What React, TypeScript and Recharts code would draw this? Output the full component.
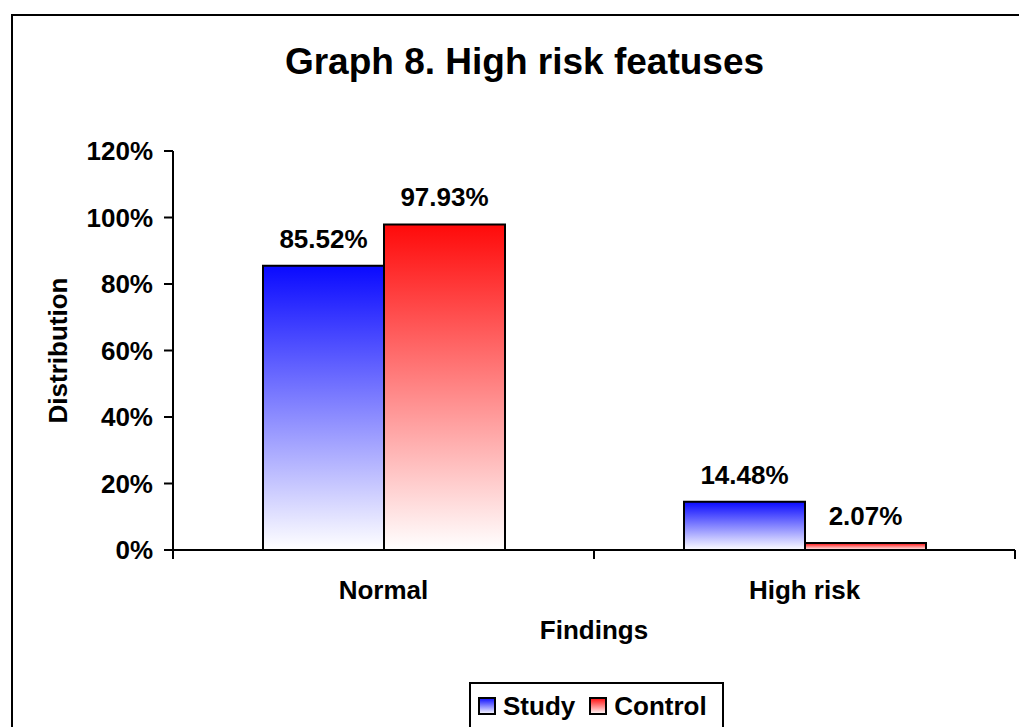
import React from 'react';
import { BarChart, Bar, XAxis, YAxis, Label, LabelList, Legend } from 'recharts';

// findings per group, in percent
const findings = ['Normal', 'High risk'];
const studyValues = [85.52, 14.48];
const controlValues = [97.93, 2.07];
const yTicks = [0, 20, 40, 60, 80, 100, 120];
const seriesOrder = ['Study', 'Control'];

const data = findings.map((finding, i) => ({
  finding,
  study: studyValues[i],
  control: controlValues[i],
}));

const FONT = '"Liberation Sans", Arial, Helvetica, sans-serif';
const pct = (v: any) => `${Number(v).toFixed(2)}%`;

const textStyle = { fontFamily: FONT, fontWeight: 700, fontSize: 26, fill: '#000' };

// category label plus tick marks on both edges of the band
const CategoryTick = (props: any) => {
  const { x, y, payload } = props;
  const half = payload.offset || 0;
  const axisY = y - 31;
  return (
    <g>
      <line x1={x - half} x2={x - half} y1={axisY} y2={axisY + 9} stroke="#000" strokeWidth={2} />
      <line x1={x + half} x2={x + half} y1={axisY} y2={axisY + 9} stroke="#000" strokeWidth={2} />
      <text x={x} y={y} dy="0.71em" textAnchor="middle" style={textStyle}>
        {payload.value}
      </text>
    </g>
  );
};

const LegendBox = ({ payload }: any) => {
  const items = [...(payload || [])].sort(
    (a: any, b: any) => seriesOrder.indexOf(a.value) - seriesOrder.indexOf(b.value)
  );
  return (
    <div
      style={{
        border: '2px solid #000',
        background: '#fff',
        height: 60,
        boxSizing: 'border-box',
        padding: '9px 0 0 7px',
        display: 'flex',
        alignItems: 'flex-start',
        fontFamily: FONT,
        fontWeight: 700,
        fontSize: 26,
        lineHeight: '26px',
      }}
    >
      {items.map((entry: any) => (
        <div key={entry.value} style={{ display: 'flex', alignItems: 'center', marginRight: 14 }}>
          <svg width={18} height={18} style={{ marginRight: 7 }}>
            <rect x={1} y={1} width={16} height={16} fill={entry.color} stroke="#000" strokeWidth={2} />
          </svg>
          <span>{entry.value}</span>
        </div>
      ))}
    </div>
  );
};

export default function App() {
  return (
    <div style={{ position: 'absolute', left: 0, top: 0, width: 1019, height: 727, overflow: 'hidden', background: '#fff' }}>
      {/* outer frame */}
      <div
        style={{
          position: 'absolute',
          left: 11,
          top: 14,
          width: 1040,
          height: 760,
          border: '2px solid #000',
          boxSizing: 'border-box',
        }}
      />
      <div
        style={{
          position: 'absolute',
          left: 0,
          top: 40,
          width: 1049,
          textAlign: 'center',
          fontFamily: FONT,
          fontWeight: 700,
          fontSize: 37,
          lineHeight: '44px',
        }}
      >
        Graph 8. High risk featuses
      </div>
      <div style={{ position: 'absolute', left: 0, top: 0 }}>
        <BarChart
          width={1019}
          height={727}
          data={data}
          margin={{ top: 151, right: 4, bottom: 77, left: 0 }}
          barCategoryGap={90}
          barGap={0}
        >
          <defs>
            <linearGradient id="studyFill" x1="0" y1="0" x2="0" y2="1">
              <stop offset="0%" stopColor="#0a0aff" />
              <stop offset="100%" stopColor="#ffffff" />
            </linearGradient>
            <linearGradient id="controlFill" x1="0" y1="0" x2="0" y2="1">
              <stop offset="0%" stopColor="#ff0a0a" />
              <stop offset="100%" stopColor="#ffffff" />
            </linearGradient>
          </defs>
          <XAxis
            dataKey="finding"
            axisLine={{ stroke: '#000', strokeWidth: 2 }}
            tickLine={false}
            tickSize={0}
            tickMargin={31}
            tick={<CategoryTick />}
            height={100}
          >
            <Label value="Findings" position="insideBottom" offset={11} style={textStyle} />
          </XAxis>
          <YAxis
            domain={[0, 120]}
            ticks={yTicks}
            tickFormatter={(v) => `${v}%`}
            axisLine={{ stroke: '#000', strokeWidth: 2 }}
            tickLine={{ stroke: '#000', strokeWidth: 2 }}
            tickSize={9}
            tickMargin={11}
            tick={textStyle}
            width={173}
          >
            <Label
              value="Distribution"
              angle={-90}
              position="insideLeft"
              offset={58}
              style={{ ...textStyle, textAnchor: 'middle' }}
            />
          </YAxis>
          <Legend
            layout="horizontal"
            align="center"
            verticalAlign="middle"
            wrapperStyle={{ left: 469, top: 682, width: 255 }}
            content={(props: any) => <LegendBox payload={props.payload} />}
          />
          <Bar dataKey="study" name="Study" fill="url(#studyFill)" stroke="#000" strokeWidth={2} isAnimationActive={false}>
            <LabelList dataKey="study" position="top" offset={18} formatter={pct} style={textStyle} />
          </Bar>
          <Bar dataKey="control" name="Control" fill="url(#controlFill)" stroke="#000" strokeWidth={2} isAnimationActive={false}>
            <LabelList dataKey="control" position="top" offset={18} formatter={pct} style={textStyle} />
          </Bar>
        </BarChart>
      </div>
    </div>
  );
}
